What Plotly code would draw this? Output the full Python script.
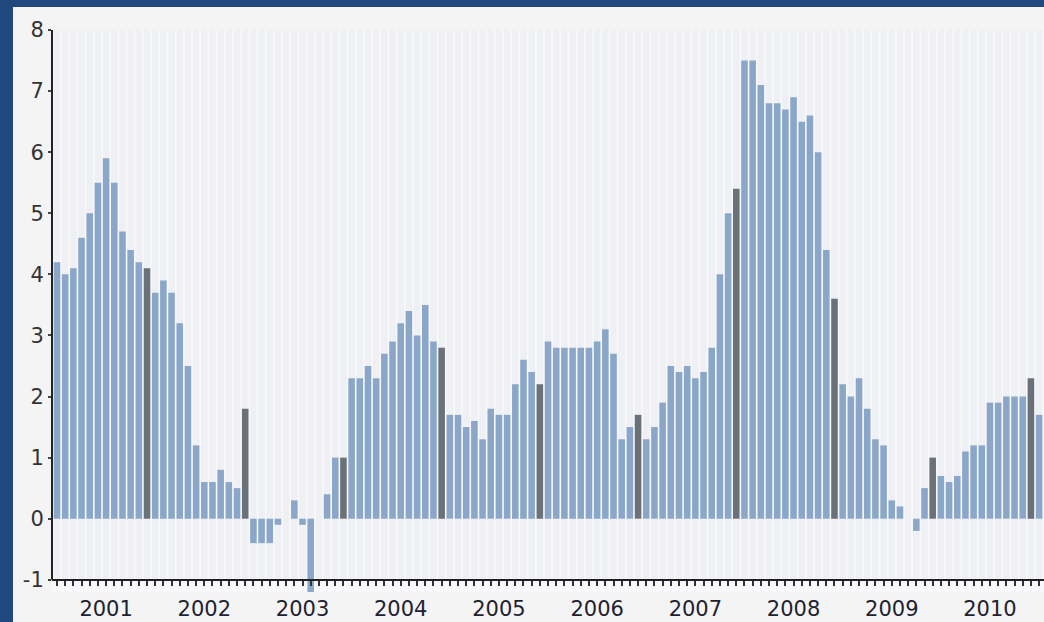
import plotly.graph_objects as go

years = [2001, 2002, 2003, 2004, 2005, 2006, 2007, 2008, 2009, 2010]
month_codes = ["01", "02", "03", "04", "05", "06", "07", "08", "09", "10", "11", "12"]

v2001 = [4.2, 4.0, 4.1, 4.6, 5.0, 5.5, 5.9, 5.5, 4.7, 4.4, 4.2, 4.1]
v2002 = [3.7, 3.9, 3.7, 3.2, 2.5, 1.2, 0.6, 0.6, 0.8, 0.6, 0.5, 1.8]
v2003 = [-0.4, -0.4, -0.4, -0.1, 0.0, 0.3, -0.1, -1.2, 0.0, 0.4, 1.0, 1.0]
v2004 = [2.3, 2.3, 2.5, 2.3, 2.7, 2.9, 3.2, 3.4, 3.0, 3.5, 2.9, 2.8]
v2005 = [1.7, 1.7, 1.5, 1.6, 1.3, 1.8, 1.7, 1.7, 2.2, 2.6, 2.4, 2.2]
v2006 = [2.9, 2.8, 2.8, 2.8, 2.8, 2.8, 2.9, 3.1, 2.7, 1.3, 1.5, 1.7]
v2007 = [1.3, 1.5, 1.9, 2.5, 2.4, 2.5, 2.3, 2.4, 2.8, 4.0, 5.0, 5.4]
v2008 = [7.5, 7.5, 7.1, 6.8, 6.8, 6.7, 6.9, 6.5, 6.6, 6.0, 4.4, 3.6]
v2009 = [2.2, 2.0, 2.3, 1.8, 1.3, 1.2, 0.3, 0.2, 0.0, -0.2, 0.5, 1.0]
v2010 = [0.7, 0.6, 0.7, 1.1, 1.2, 1.2, 1.9, 1.9, 2.0, 2.0, 2.0, 2.3]
v2011 = [1.7]

year_values = [v2001, v2002, v2003, v2004, v2005, v2006, v2007, v2008, v2009, v2010]

y_ticks = [-1, 0, 1, 2, 3, 4, 5, 6, 7, 8]
y_ticktext = ["-1", "0", "1", "2", "3", "4", "5", "6", "7", "8"]

months = []
values = []
for y, vals in zip(years, year_values):
    for m, v in zip(month_codes, vals):
        months.append(f"{y}-{m}")
        values.append(v)
months.append("2011-01")
values.append(v2011[0])

LIGHT = "#8aa6c8"
DARK = "#6b7179"
colors = [DARK if m.endswith("-12") else LIGHT for m in months]

tickvals = months
ticktext = [m[:4] if m.endswith("-07") else "" for m in months]

fig = go.Figure()
# background column stripes
fig.add_trace(go.Bar(x=months, y=[9] * len(months), base=-1, width=0.8,
                     marker=dict(color="#eff0f4", line=dict(width=0)),
                     hoverinfo="skip", showlegend=False))
fig.add_trace(go.Bar(x=months, y=values, width=0.8,
                     marker=dict(color=colors, line=dict(width=0)),
                     showlegend=False))

ymin, ymax = -1.2, 8
fig.update_layout(
    width=1044, height=622,
    margin=dict(l=52, r=0, t=30, b=30),
    paper_bgcolor="#f4f4f5",
    plot_bgcolor="#f8f8fa",
    barmode="overlay",
    font=dict(family="DejaVu Sans", color="#222"),
    xaxis=dict(
        type="category",
        range=[-0.61, 120.6],
        tickmode="array", tickvals=tickvals, ticktext=ticktext,
        ticks="outside", ticklen=5, tickwidth=2, tickcolor="#333",
        showline=True, linecolor="#222", linewidth=2,
        showgrid=False, zeroline=False,
        anchor="free", position=0.2 / 9.2,
        tickfont=dict(size=21, color="#1e2230"),
        ticklabelstandoff=5,
    ),
    yaxis=dict(
        range=[ymin, ymax],
        tickmode="array", tickvals=y_ticks, ticktext=y_ticktext,
        ticks="outside", ticklen=3, tickwidth=2, tickcolor="#444",
        showline=False, showgrid=False, zeroline=False,
        tickfont=dict(size=21, color="#333"),
    ),
    shapes=[
        dict(type="line", xref="paper", yref="y", x0=0, x1=0, y0=-1, y1=8,
             line=dict(color="#222", width=2), layer="above"),
        dict(type="rect", xref="paper", yref="paper", x0=-0.1, x1=-0.0393,
             y0=-0.2, y1=1.2, fillcolor="#1f497d", line=dict(width=0), layer="below"),
        dict(type="rect", xref="paper", yref="paper", x0=-0.1, x1=1.1,
             y0=1.0409, y1=1.2, fillcolor="#1f497d", line=dict(width=0), layer="below"),
    ],
)

fig.write_html(
    "out.html",
    config={"displayModeBar": False},
    post_script="document.body.style.margin='0';document.body.style.overflow='hidden';",
)
